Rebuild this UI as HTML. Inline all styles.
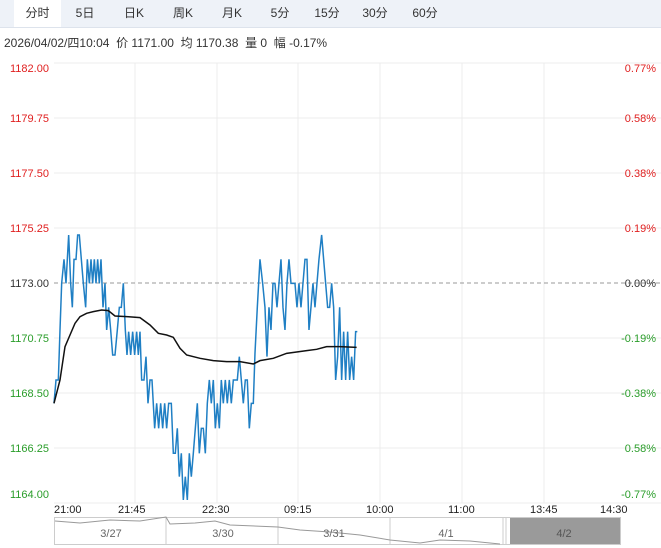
<!DOCTYPE html>
<html><head><meta charset="utf-8"><style>
body{margin:0;width:661px;height:548px;background:#fff;overflow:hidden;font-family:"Liberation Sans","Noto Sans CJK SC",sans-serif;}
.tabs{position:absolute;left:0;top:0;width:661px;height:27px;background:#eef2f8;border-bottom:1px solid #dde3ec;}
.tab{position:absolute;top:0;height:27px;line-height:27px;font-size:12px;color:#333;text-align:center;}
.info{position:absolute;left:4px;top:34px;font-size:12px;color:#333;white-space:nowrap;}
</style></head><body>
<div class="tabs">
<div class="tab" style="left:14px;width:47px;background:#fff;">分时</div>
<div class="tab" style="left:70px;width:30px;">5日</div>
<div class="tab" style="left:118px;width:32px;">日K</div>
<div class="tab" style="left:167px;width:32px;">周K</div>
<div class="tab" style="left:216px;width:32px;">月K</div>
<div class="tab" style="left:265px;width:30px;">5分</div>
<div class="tab" style="left:310px;width:34px;">15分</div>
<div class="tab" style="left:358px;width:34px;">30分</div>
<div class="tab" style="left:408px;width:34px;">60分</div>
</div>
<div class="info">2026/04/02/四10:04 &nbsp;价 1171.00 &nbsp;均 1170.38 &nbsp;量 0 &nbsp;幅 -0.17%</div>
<svg width="661" height="548" style="position:absolute;left:0;top:0" font-family="Liberation Sans, sans-serif" font-size="11">
<g stroke="#ececec" stroke-width="1">
<line x1="54" y1="63" x2="661" y2="63"/><line x1="54" y1="118" x2="661" y2="118"/><line x1="54" y1="173" x2="661" y2="173"/><line x1="54" y1="228" x2="661" y2="228"/><line x1="54" y1="338" x2="661" y2="338"/><line x1="54" y1="393" x2="661" y2="393"/><line x1="54" y1="448" x2="661" y2="448"/><line x1="54" y1="503" x2="661" y2="503"/>
<line x1="135" y1="63" x2="135" y2="503"/><line x1="217" y1="63" x2="217" y2="503"/><line x1="298" y1="63" x2="298" y2="503"/><line x1="380" y1="63" x2="380" y2="503"/><line x1="462" y1="63" x2="462" y2="503"/><line x1="544" y1="63" x2="544" y2="503"/>
</g>
<line x1="54" y1="283" x2="661" y2="283" stroke="#999" stroke-dasharray="4,3"/>
<g text-anchor="start">
<text x="10" y="72" fill="#e02020">1182.00</text><text x="10" y="122" fill="#e02020">1179.75</text><text x="10" y="177" fill="#e02020">1177.50</text><text x="10" y="232" fill="#e02020">1175.25</text>
<text x="10" y="287" fill="#333">1173.00</text>
<text x="10" y="342" fill="#2a9d2a">1170.75</text><text x="10" y="397" fill="#2a9d2a">1168.50</text><text x="10" y="452" fill="#2a9d2a">1166.25</text><text x="10" y="498" fill="#2a9d2a">1164.00</text>
</g>
<g text-anchor="end">
<text x="656" y="72" fill="#e02020">0.77%</text><text x="656" y="122" fill="#e02020">0.58%</text><text x="656" y="177" fill="#e02020">0.38%</text><text x="656" y="232" fill="#e02020">0.19%</text>
<text x="656" y="287" fill="#333">0.00%</text>
<text x="656" y="342" fill="#2a9d2a">-0.19%</text><text x="656" y="397" fill="#2a9d2a">-0.38%</text><text x="656" y="452" fill="#2a9d2a">0.58%</text><text x="656" y="498" fill="#2a9d2a">-0.77%</text>
</g>
<g transform="translate(40,220) scale(0.3333)" fill="none">
<polyline stroke="#1f7fc4" stroke-width="4.5" points="42,550 48,480 55,480 60,330 65,190 72,118 78,190 86,45 92,190 97,262 102,118 108,118 113,45 118,45 124,118 130,190 137,262 142,118 148,190 153,118 158,190 163,118 168,190 173,118 178,190 183,118 189,262 195,190 200,330 206,262 212,330 218,405 225,405 232,330 238,262 244,262 250,190 256,330 261,405 266,335 272,405 278,335 284,405 290,335 295,405 300,335 305,480 312,480 318,410 324,550 330,480 336,480 344,625 350,550 356,625 362,550 368,625 374,550 380,625 386,550 394,550 400,700 406,700 412,625 418,770 424,700 430,840 436,770 442,840 448,700 454,770 460,700 466,625 472,550 478,700 484,625 490,625 496,700 502,550 508,480 514,550 520,480 526,625 532,550 538,625 544,480 550,550 556,480 562,550 568,480 574,550 580,480 586,480 592,480 598,410 604,480 610,550 616,480 622,480 628,625 634,550 640,550 645,400 652,262 660,118 668,190 675,262 681,410 687,262 693,330 699,190 705,190 711,262 717,190 723,118 729,262 735,330 741,190 747,118 753,190 759,190 765,190 771,262 777,190 783,262 789,190 795,118 801,118 807,330 813,262 819,190 825,262 831,190 837,118 845,45 851,118 857,190 863,262 869,262 875,190 881,262 887,480 893,410 899,262 905,480 911,335 917,480 923,335 929,480 935,410 941,480 947,335 952,335"/>
<polyline stroke="#111" stroke-width="4.5" points="42,550 60,480 75,380 90,345 105,310 120,290 140,280 160,275 185,270 205,272 225,288 260,290 300,293 330,315 355,340 380,345 400,352 420,385 440,405 480,415 520,422 560,425 600,425 640,432 660,422 700,415 740,400 800,392 830,388 860,380 900,380 950,382"/>
</g>
<g fill="#222" font-size="11">
<text x="54" y="513">21:00</text><text x="118" y="513">21:45</text><text x="202" y="513">22:30</text><text x="284" y="513">09:15</text><text x="366" y="513">10:00</text><text x="448" y="513">11:00</text><text x="530" y="513">13:45</text><text x="600" y="513">14:30</text>
</g>
<rect x="54.5" y="517.5" width="566" height="27" fill="none" stroke="#ccc"/>
<g stroke="#ccc"><line x1="166" y1="517" x2="166" y2="545"/><line x1="278" y1="517" x2="278" y2="545"/><line x1="390" y1="517" x2="390" y2="545"/><line x1="503" y1="517" x2="503" y2="545"/><line x1="506" y1="517" x2="506" y2="545"/></g>
<rect x="510" y="518" width="110" height="26" fill="#9a9a9a"/>
<polyline fill="none" stroke="#999" stroke-width="1" points="55,521 80,523 110,520 140,521 166,517 170,524 195,523 215,521 230,525 278,527 300,530 330,532 360,535 390,540 420,543 440,540 470,541 500,544"/>
<g fill="#666" font-size="11" text-anchor="middle"><text x="111" y="537">3/27</text><text x="223" y="537">3/30</text><text x="334" y="537">3/31</text><text x="446" y="537">4/1</text><text x="564" y="537" fill="#555">4/2</text></g>
</svg>
</body></html>
